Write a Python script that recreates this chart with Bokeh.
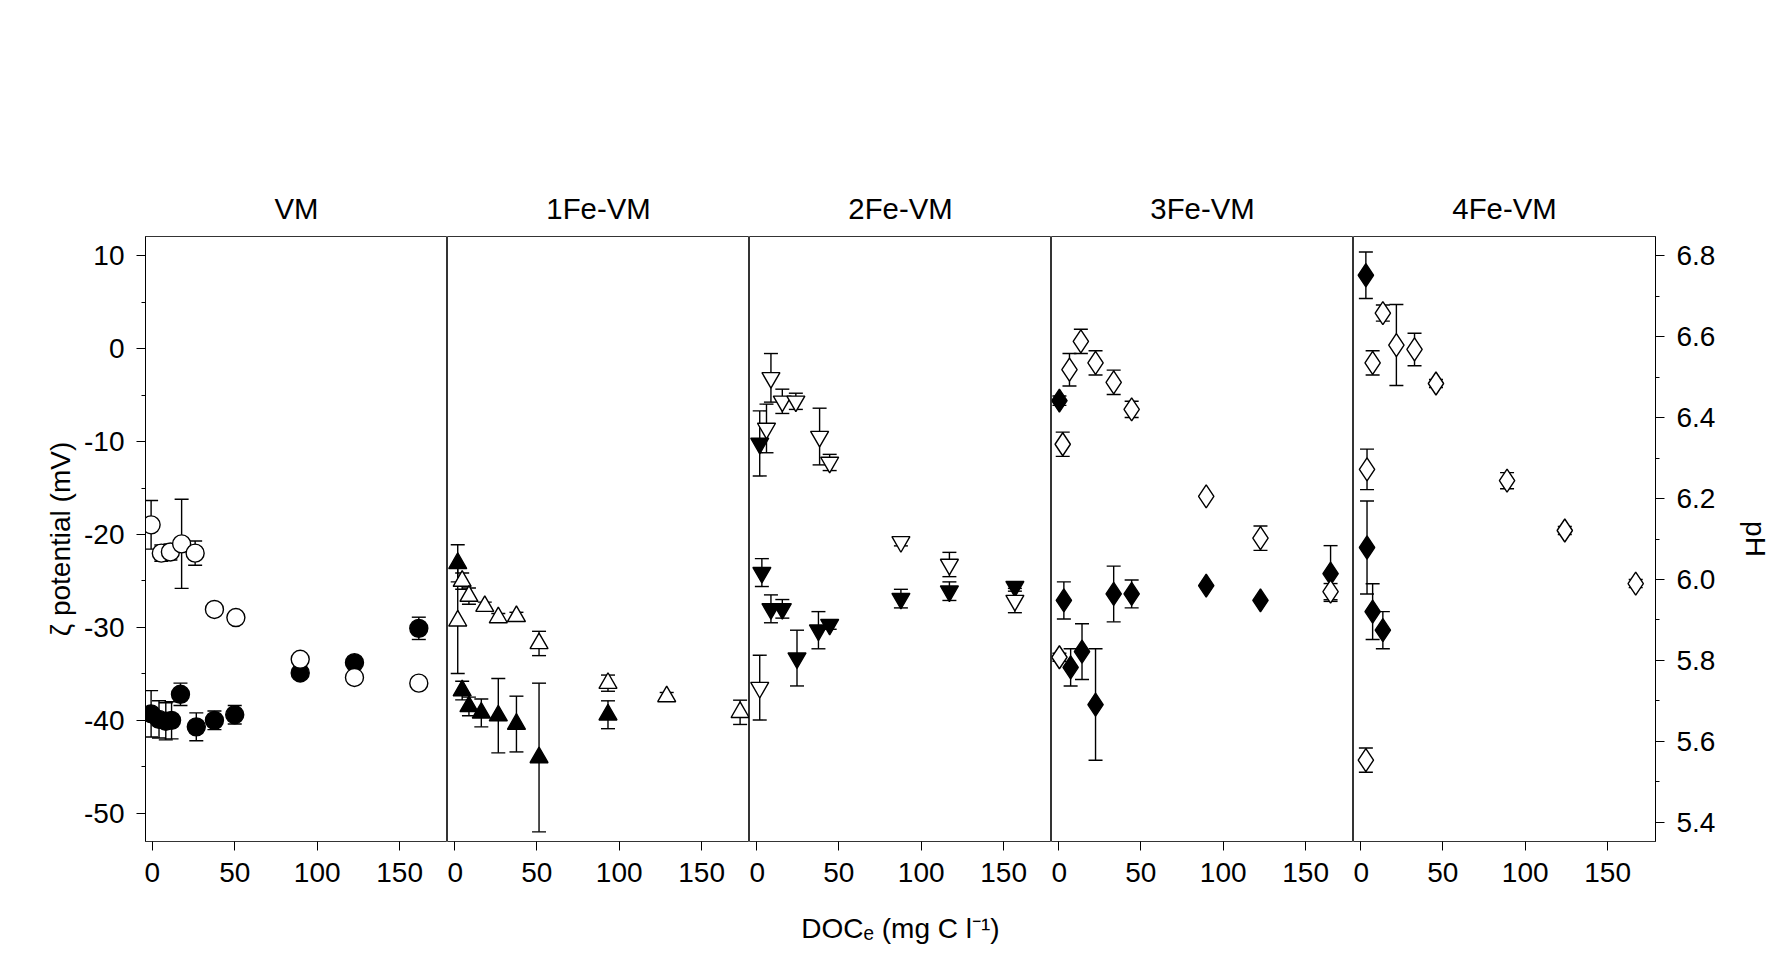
from bokeh.plotting import figure
from bokeh.layouts import row
from bokeh.models import Range1d, LinearAxis, ColumnDataSource, Whisker, TeeHead, FixedTicker, CustomJSTickFormatter
from bokeh.embed import file_html
from bokeh.resources import INLINE

titles = ["VM", "1Fe-VM", "2Fe-VM", "3Fe-VM", "4Fe-VM"]
markers = ["circle", "triangle", "inverted_triangle", "diamond", "diamond"]

zeta_x = [
    [-0.7, 4.1, 8.2, 11.7, 17.1, 26.7, 37.7, 50.0, 89.7, 122.6, 161.6],
    [2.1, 4.8, 8.9, 16.4, 26.7, 37.7, 51.4, 93.2],
    [2.1, 3.4, 8.9, 15.8, 24.7, 37.7, 44.5, 87.7, 117.1, 156.8],
    [0.7, 3.4, 7.5, 14.4, 22.6, 33.6, 44.5, 89.7, 122.6, 165.1],
    [3.4, 4.1, 7.5, 13.7],
]
zeta_y = [
    [-39.3, -39.9, -40.1, -40.0, -37.2, -40.7, -40.0, -39.4, -34.9, -33.8, -30.1],
    [-23.1, -36.8, -38.5, -39.2, -39.5, -40.4, -44.0, -39.4],
    [-10.2, -24.1, -28.0, -28.0, -33.3, -30.3, -29.7, -26.9, -26.1, -25.6],
    [-5.6, -27.1, -34.3, -32.6, -38.3, -26.4, -26.4, -25.5, -27.1, -24.2],
    [7.9, -21.4, -28.3, -30.3],
]
zeta_err = [
    [2.5, 2, 2, 2, 1.2, 1.5, 1, 1, 0, 0, 1.2],
    [2, 1, 1, 1.5, 4, 3, 8, 1.5],
    [3.5, 1.5, 1.5, 1, 3, 2, 0.5, 1, 1, 0.5],
    [0.5, 2, 2, 3, 6, 3, 1.5, 0, 0, 3],
    [2.5, 5, 3, 2],
]
ph_x = [
    [-0.7, 5.5, 11.0, 17.8, 26.0, 37.7, 50.7, 89.7, 122.6, 161.6],
    [2.1, 4.8, 8.9, 18.5, 26.7, 37.7, 51.4, 93.2, 128.8, 173.3],
    [2.1, 6.2, 8.9, 15.8, 24.0, 38.4, 44.5, 87.7, 117.1, 156.8],
    [0.7, 2.7, 6.8, 13.7, 22.6, 33.6, 44.5, 89.7, 122.6, 165.1],
    [3.4, 4.1, 7.5, 13.7, 21.9, 32.9, 45.9, 89.0, 124.0, 167.0],
]
ph_y = [
    [6.135, 6.065, 6.068, 6.088, 6.065, 5.926, 5.906, 5.803, 5.758, 5.744],
    [5.898, 5.996, 5.959, 5.934, 5.906, 5.909, 5.842, 5.744, 5.711, 5.672],
    [5.733, 6.373, 6.498, 6.440, 6.440, 6.353, 6.289, 6.093, 6.037, 5.948],
    [5.808, 6.334, 6.518, 6.588, 6.535, 6.487, 6.420, 6.205, 6.102, 5.970],
    [5.554, 6.272, 6.535, 6.658, 6.579, 6.568, 6.484, 6.244, 6.121, 5.990],
]
ph_err = [
    [0.06, 0.02, 0.02, 0.11, 0.03, 0, 0, 0, 0, 0],
    [0.13, 0.02, 0.02, 0.01, 0.01, 0.01, 0.03, 0.02, 0.01, 0.03],
    [0.08, 0.06, 0.06, 0.03, 0.02, 0.07, 0.02, 0.01, 0.03, 0.03],
    [0.01, 0.03, 0.04, 0.03, 0.03, 0.03, 0.02, 0, 0.03, 0.02],
    [0.03, 0.05, 0.03, 0.02, 0.1, 0.04, 0.01, 0.02, 0.01, 0.01],
]

FONT = "Liberation Sans"
LBL = "21pt"
FW = [302, 302, 302, 302, 302]
figs = []
for i in range(5):
    p = figure(frame_width=FW[i], frame_height=605, output_backend="svg", toolbar_location=None,
               x_range=Range1d(-4.1, 179), y_range=Range1d(-53.04, 12.07), title=titles[i],
               min_border_left=145 if i == 0 else 0, min_border_right=100 if i == 4 else 0,
               min_border_top=236, min_border_bottom=110)
    p.extra_y_ranges = {"ph": Range1d(5.353, 6.847)}
    p.title.align = "center"
    p.title.text_font = FONT
    p.title.text_font_size = "22pt"
    p.title.text_font_style = "normal"
    p.title.text_color = "black"
    p.title.standoff = 24
    p.grid.visible = False
    p.outline_line_color = "black"
    p.outline_line_width = 0.8
    p.xaxis.ticker = FixedTicker(ticks=[0, 50, 100, 150])
    p.xaxis.major_label_text_font = FONT
    p.xaxis.major_label_text_font_size = LBL
    p.xaxis.major_label_text_color = "black"
    p.xaxis.major_label_standoff = 12
    p.xaxis.major_tick_out = 9
    p.xaxis.major_tick_in = 0
    p.xaxis.axis_line_color = None
    if i == 2:
        p.xaxis.axis_label = "DOCₑ (mg C l⁻¹)"
        p.xaxis.axis_label_text_font = FONT
        p.xaxis.axis_label_text_font_size = LBL
        p.xaxis.axis_label_text_font_style = "normal"
        p.xaxis.axis_label_text_color = "black"
        p.xaxis.axis_label_standoff = 28
    if i == 0:
        p.yaxis.ticker = FixedTicker(ticks=[10, 0, -10, -20, -30, -40, -50],
                                     minor_ticks=[5, -5, -15, -25, -35, -45])
        p.yaxis.formatter = CustomJSTickFormatter(code="return tick.toString();")
        p.yaxis.axis_label = "ζ potential (mV)"
        p.yaxis.axis_label_text_font = FONT
        p.yaxis.axis_label_text_font_size = LBL
        p.yaxis.axis_label_text_font_style = "normal"
        p.yaxis.axis_label_text_color = "black"
        p.yaxis.major_label_text_font = FONT
        p.yaxis.major_label_text_font_size = LBL
        p.yaxis.major_label_text_color = "black"
        p.yaxis.major_label_standoff = 12
        p.yaxis.major_tick_out = 9
        p.yaxis.major_tick_in = 0
    else:
        p.yaxis.visible = False
    if i == 4:
        ax = LinearAxis(y_range_name="ph", axis_label="pH",
                        ticker=FixedTicker(ticks=[5.4, 5.6, 5.8, 6.0, 6.2, 6.4, 6.6, 6.8],
                                           minor_ticks=[5.5, 5.7, 5.9, 6.1, 6.3, 6.5, 6.7]))
        ax.formatter = CustomJSTickFormatter(code="return tick.toFixed(1);")
        ax.major_label_text_font = FONT
        ax.major_label_text_font_size = LBL
        ax.major_label_text_color = "black"
        ax.axis_label_text_font = FONT
        ax.axis_label_text_font_size = LBL
        ax.axis_label_text_font_style = "normal"
        ax.axis_label_text_color = "black"
        ax.axis_label_standoff = 22
        ax.major_label_standoff = 12
        ax.major_tick_out = 9
        ax.major_tick_in = 0
        p.add_layout(ax, "right")

    sz = 23 if markers[i] == "diamond" else 18
    zs = ColumnDataSource(dict(x=zeta_x[i], y=zeta_y[i],
                               lo=[a - b for a, b in zip(zeta_y[i], zeta_err[i])],
                               hi=[a + b for a, b in zip(zeta_y[i], zeta_err[i])]))
    ps = ColumnDataSource(dict(x=ph_x[i], y=ph_y[i],
                               lo=[a - b for a, b in zip(ph_y[i], ph_err[i])],
                               hi=[a + b for a, b in zip(ph_y[i], ph_err[i])]))
    for src, rn in ((zs, "default"), (ps, "ph")):
        w = Whisker(source=src, base="x", lower="lo", upper="hi", y_range_name=rn,
                    line_color="black", line_width=1.4,
                    upper_head=TeeHead(size=14, line_color="black", line_width=1.4),
                    lower_head=TeeHead(size=14, line_color="black", line_width=1.4))
        p.add_layout(w)
    p.scatter("x", "y", source=zs, marker=markers[i], size=sz, fill_color="black",
              line_color="black", line_width=1.4)
    p.scatter("x", "y", source=ps, marker=markers[i], size=sz, fill_color="white",
              line_color="black", line_width=1.4, y_range_name="ph")
    figs.append(p)

layout = row(*figs, spacing=0)
open("out.html", "w").write(file_html(layout, INLINE))
